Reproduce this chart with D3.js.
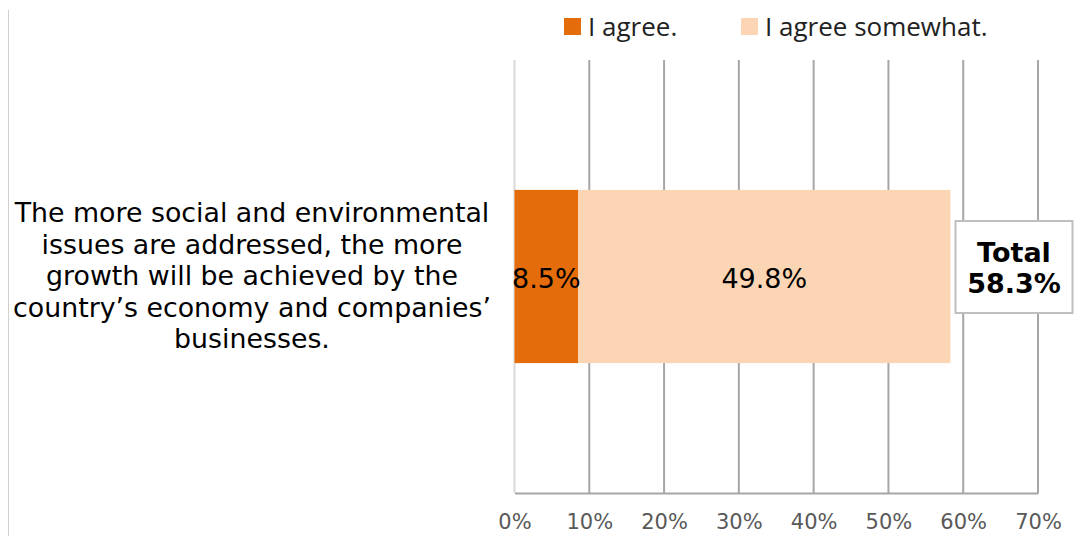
<!DOCTYPE html>
<html lang="en">
<head>
<meta charset="utf-8">
<title>Stacked bar</title>
<script src="https://d3js.org/d3.v7.min.js"></script>
<style>
  body { margin: 0; background: #fff; }
  text { font-family: "DejaVu Sans", Verdana, sans-serif; }
</style>
</head>
<body>
<script>
  // data
  var category = ["The more social and environmental", "issues are addressed, the more",
                  "growth will be achieved by the", "country\u2019s economy and companies\u2019",
                  "businesses."];
  var seriesNames = ["I agree.", "I agree somewhat."];
  var seriesValues = [8.5, 49.8];
  var seriesColors = ["#e46c0a", "#fcd5b4"];
  var ticks = [0, 10, 20, 30, 40, 50, 60, 70];
  var totalLabel = ["Total", "58.3%"];

  var width = 1082, height = 536;
  var svg = d3.select("body").append("svg")
      .attr("width", width)
      .attr("height", height);

  var plotTop = 60, plotBottom = 493;
  var x = d3.scaleLinear().domain([0, 70]).range([514.5, 1038]);
  var y = d3.scaleBand().domain(["row"]).range([plotTop, plotBottom]).paddingInner(0).paddingOuter(0.75);

  // left border line
  svg.append("line")
      .attr("x1", 8.5).attr("x2", 8.5)
      .attr("y1", 10).attr("y2", height)
      .attr("stroke", "#d0d0d0").attr("stroke-width", 1);

  // gridlines
  svg.append("g").selectAll("line")
      .data(ticks)
      .enter().append("line")
      .attr("x1", function(d) { return x(d); })
      .attr("x2", function(d) { return x(d); })
      .attr("y1", plotTop).attr("y2", plotBottom)
      .attr("stroke", function(d) { return d === 0 ? "#d9d9d9" : "#a6a6a6"; })
      .attr("stroke-width", 2);

  // bottom axis
  var axis = svg.append("g")
      .attr("transform", "translate(0," + plotBottom + ")")
      .call(d3.axisBottom(x).tickValues(ticks).tickSize(0).tickPadding(21)
        .tickFormat(function(d) { return d + "%"; }));
  axis.select(".domain").attr("stroke", "#a6a6a6").attr("stroke-width", 2);
  axis.selectAll("text")
      .attr("fill", "#595959")
      .style("font-size", "21px")
      .style("font-family", "'DejaVu Sans', sans-serif");

  // stacked bars
  var stack = [];
  var acc = 0;
  seriesValues.forEach(function(v, i) {
    stack.push({ x0: acc, x1: acc + v, v: v, c: seriesColors[i] });
    acc += v;
  });

  var bars = svg.append("g");
  bars.selectAll("rect")
      .data(stack)
      .enter().append("rect")
      .attr("x", function(d) { return x(d.x0); })
      .attr("width", function(d) { return x(d.x1) - x(d.x0); })
      .attr("y", y("row"))
      .attr("height", y.bandwidth())
      .attr("fill", function(d) { return d.c; });

  bars.selectAll("text")
      .data(stack)
      .enter().append("text")
      .attr("x", function(d) { return (x(d.x0) + x(d.x1)) / 2; })
      .attr("y", 288)
      .attr("text-anchor", "middle")
      .attr("fill", "#000")
      .style("font-size", "27px")
      .text(function(d) { return d.v.toFixed(1) + "%"; });

  // category label
  var cat = svg.append("text")
      .attr("text-anchor", "middle")
      .style("font-size", "26.8px")
      .attr("fill", "#000");
  cat.selectAll("tspan")
      .data(category)
      .enter().append("tspan")
      .attr("x", 252)
      .attr("y", function(d, i) { return 222 + i * 31.5; })
      .text(function(d) { return d; });

  // total box
  var bx = x(acc) + 5, bw = 117;
  svg.append("rect")
      .attr("x", bx).attr("y", 221)
      .attr("width", bw).attr("height", 92)
      .attr("fill", "#fff")
      .attr("stroke", "#bfbfbf").attr("stroke-width", 2);
  svg.append("g").selectAll("text")
      .data(totalLabel)
      .enter().append("text")
      .attr("x", bx + bw / 2)
      .attr("y", function(d, i) { return 262 + i * 31; })
      .attr("text-anchor", "middle")
      .attr("font-weight", "bold")
      .style("font-size", "27px")
      .text(function(d) { return d; });

  // legend
  var legendX = [564, 741];
  var leg = svg.append("g").selectAll("g")
      .data(seriesNames)
      .enter().append("g")
      .attr("transform", function(d, i) { return "translate(" + legendX[i] + ",18)"; });
  leg.append("rect")
      .attr("width", 17).attr("height", 17)
      .attr("fill", function(d, i) { return seriesColors[i]; });
  leg.append("text")
      .attr("x", 24).attr("y", 18)
      .style("font-family", "'Open Sans', sans-serif")
      .style("font-size", "26px")
      .attr("fill", "#222")
      .text(function(d) { return d; });
</script>
</body>
</html>
